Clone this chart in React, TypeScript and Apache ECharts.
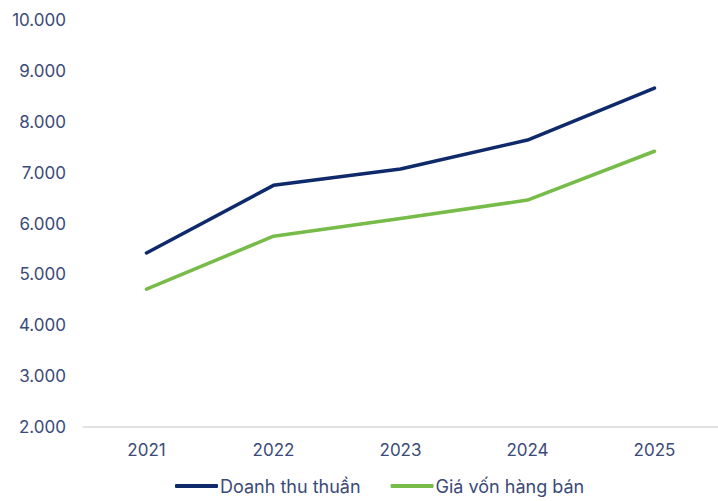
import React, { useEffect, useRef } from "react";
import * as echarts from "echarts";

const years = ["2021", "2022", "2023", "2024", "2025"];
const doanhThuThuan = [5420, 6750, 7070, 7640, 8660];
const giaVonHangBan = [4710, 5750, 6100, 6460, 7420];
const seriesNames = ["Doanh thu thuần", "Giá vốn hàng bán"];

const fmt = (v: number) => v.toString().replace(/\B(?=(\d{3})+(?!\d))/g, ".");

export default function App() {
  const ref = useRef<HTMLDivElement>(null);
  useEffect(() => {
    if (!ref.current) return;
    const chart = echarts.init(ref.current, undefined, { renderer: "svg" });
    const textColor = "#3b4a78";
    const font = "Inter, 'Noto Sans', sans-serif";
    chart.setOption({
      animation: false,
      grid: { left: 83, right: -17, top: 20, bottom: 74, containLabel: false },
      legend: {
        bottom: 1,
        left: 170,
        itemWidth: 43,
        itemHeight: 4,
        itemGap: 30,
        icon: "roundRect",
        textStyle: { color: textColor, fontSize: 18, fontFamily: font, padding: [0, 0, 0, -3] },
        data: seriesNames,
      },
      xAxis: {
        type: "category",
        data: years,
        boundaryGap: true,
        axisLine: { show: true, lineStyle: { color: "#d9d9d9", width: 1.5 } },
        axisTick: { show: false },
        axisLabel: { color: textColor, fontSize: 17, fontFamily: font, margin: 14 },
      },
      yAxis: {
        type: "value",
        min: 2000,
        max: 10000,
        interval: 1000,
        splitLine: { show: false },
        axisLine: { show: false },
        axisTick: { show: false },
        axisLabel: { color: textColor, fontSize: 17, fontFamily: font, margin: 17, formatter: (v: number) => fmt(v) },
      },
      series: [
        {
          name: seriesNames[0],
          type: "line",
          data: doanhThuThuan,
          showSymbol: false,
          symbol: "none",
          lineStyle: { color: "#0f2a6b", width: 3.5, cap: "round", join: "round" },
          itemStyle: { color: "#0f2a6b" },
        },
        {
          name: seriesNames[1],
          type: "line",
          data: giaVonHangBan,
          showSymbol: false,
          symbol: "none",
          lineStyle: { color: "#77bb48", width: 3.5, cap: "round", join: "round" },
          itemStyle: { color: "#77bb48" },
        },
      ],
    });
    return () => chart.dispose();
  }, []);
  return <div ref={ref} style={{ width: 718, height: 501, position: "absolute", left: 0, top: 0 }} />;
}
